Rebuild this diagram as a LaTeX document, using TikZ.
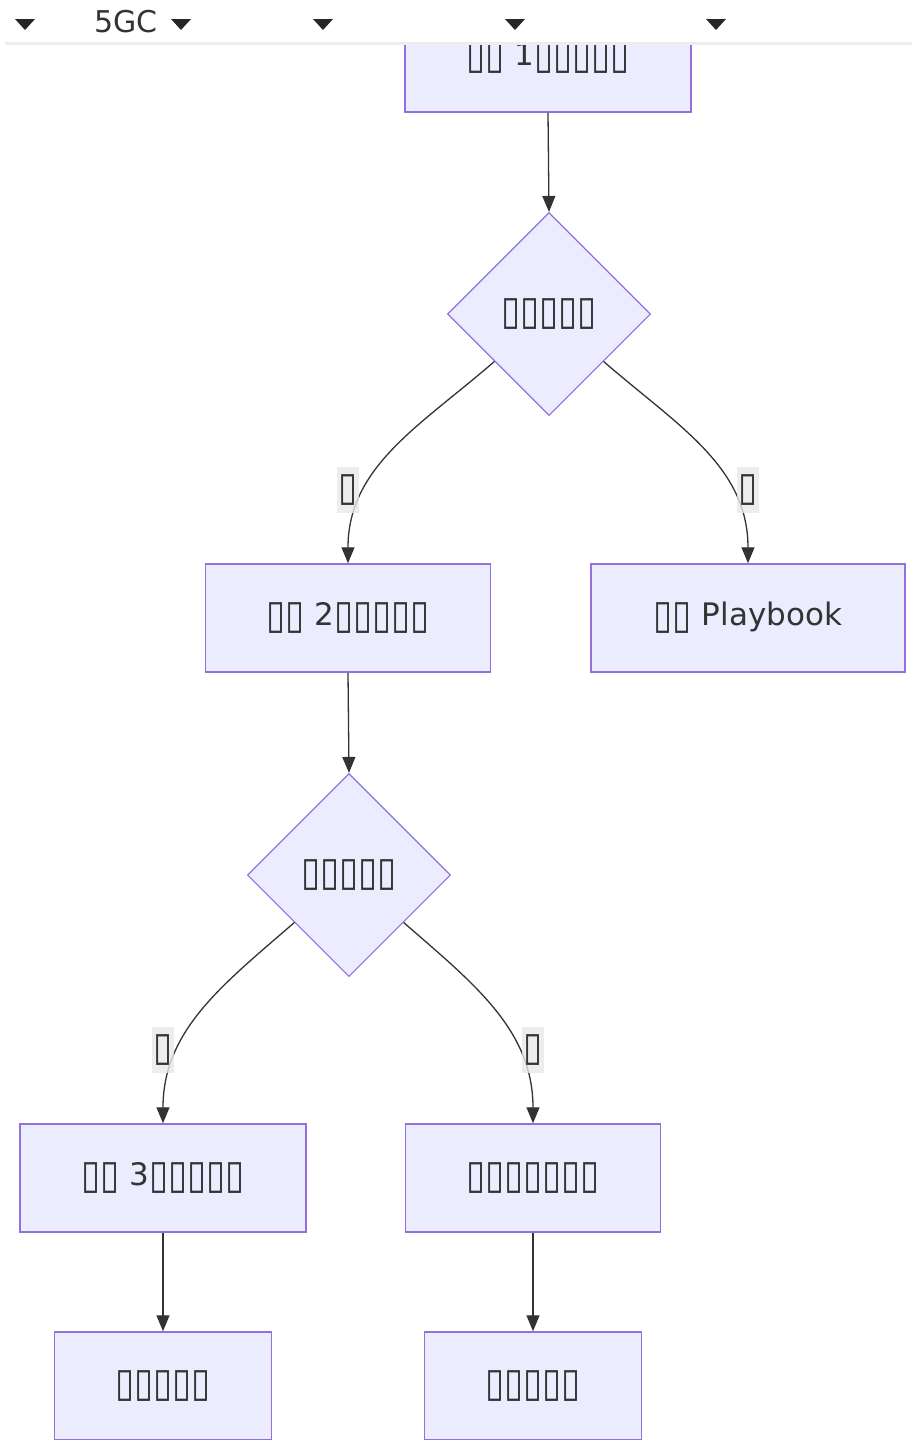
\documentclass[tikz,border=0pt]{standalone}
\usepackage{fontspec}
\setmainfont{DejaVu Sans}
\usepackage{graphicx}
\usepackage{tikz}
\usetikzlibrary{arrows.meta,shapes.geometric}
\definecolor{nodefill}{HTML}{ECECFF}
\definecolor{nodeline}{HTML}{9370DB}
\definecolor{edgeline}{HTML}{333333}
\definecolor{lblfill}{HTML}{E8E8E8}
\newcommand{\tf}{\raisebox{-0.09em}{\scalebox{1.12}[1.3]{▯}}}

\begin{document}
\begin{tikzpicture}[x=1pt,y=1pt,
				stagebox/.style={draw=nodeline, fill=nodefill, rectangle, line width=1.5pt,
						minimum height=108pt, inner sep=0pt, align=center, text=edgeline,
						font=\fontsize{31}{36}\selectfont},
				decide/.style={draw=nodeline, fill=nodefill, diamond, line width=1.1pt,
						minimum width=203pt, minimum height=203pt, inner sep=0pt, text=edgeline,
						font=\fontsize{31}{36}\selectfont},
				ar/.style={-{Triangle[length=16pt,width=13pt]}, draw=edgeline, line width=1.3pt},
				lbl/.style={fill=lblfill, fill opacity=0.8, text opacity=1, minimum width=22pt,
						minimum height=46pt, inner sep=0pt, text=edgeline, font=\fontsize{31}{36}\selectfont},
			]
			\useasboundingbox (0,0) rectangle (912,-1440);
			\node[stagebox, minimum width=286pt] (st1)  at (548, -58)   {\tf\tf{} 1\tf\tf\tf\tf\tf};
			\node[decide]                        (dec1) at (549, -314)  {\tf\tf\tf\tf\tf};
			\node[stagebox, minimum width=285pt] (st2)  at (348, -618)  {\tf\tf{} 2\tf\tf\tf\tf\tf};
			\node[stagebox, minimum width=314pt] (play) at (748, -618)  {\tf\tf{} Playbook};
			\node[decide]                        (dec2) at (349, -875)  {\tf\tf\tf\tf\tf};
			\node[stagebox, minimum width=286pt] (st3)  at (163, -1178) {\tf\tf{} 3\tf\tf\tf\tf\tf};
			\node[stagebox, minimum width=255pt] (alt)  at (533, -1178) {\tf\tf\tf\tf\tf\tf\tf};
			\node[stagebox, minimum width=217pt] (out3) at (163, -1386) {\tf\tf\tf\tf\tf};
			\node[stagebox, minimum width=217pt] (outa) at (533, -1386) {\tf\tf\tf\tf\tf};
			\draw[ar] (st1.south) -- (dec1.north);
			\draw[ar] (dec1) to[out=221,in=90] (st2.north);
			\draw[ar] (dec1) to[out=-41,in=90] (play.north);
			\draw[ar] (st2.south) -- (dec2.north);
			\draw[ar] (dec2) to[out=221,in=90] (st3.north);
			\draw[ar] (dec2) to[out=-41,in=90] (alt.north);
			\draw[ar] (st3.south) -- (out3.north);
			\draw[ar] (alt.south) -- (outa.north);
			\node[lbl] (yes1) at (348, -490)  {\tf};
			\node[lbl] (no1)  at (748, -490)  {\tf};
			\node[lbl] (yes2) at (163, -1050) {\tf};
			\node[lbl] (no2)  at (533, -1050) {\tf};
			% top bar
			\fill[white] (0,0) rectangle (912,-42);
			\fill[black!7] (5,-42) rectangle (912,-45);
			\node[text=edgeline, font=\fontsize{30}{34}\selectfont] (bar) at (126,-22) {5GC};
			\foreach \tx in {25,181,323,515,716}
				\fill[black!85] (\tx-10,-19) -- (\tx+10,-19) -- (\tx,-30) -- cycle;
		\end{tikzpicture}
\end{document}
